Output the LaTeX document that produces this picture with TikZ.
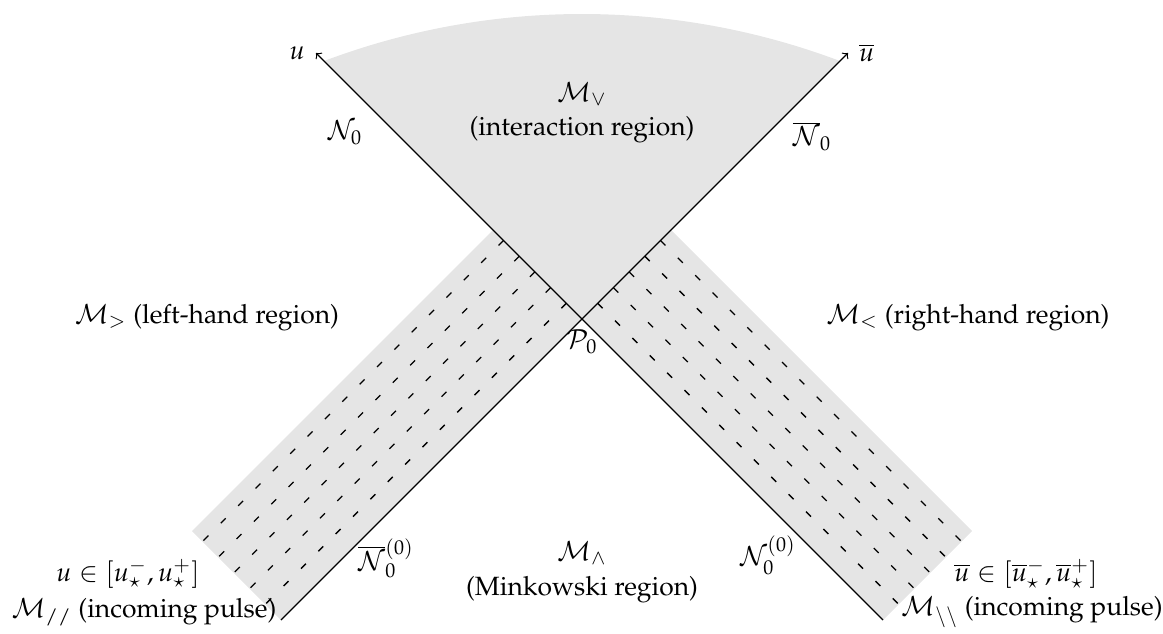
\documentclass[tikz,border=0pt]{standalone}
\usepackage[T1]{fontenc}
\usepackage{mathpazo}
\usetikzlibrary{calc}
\begin{document}
\begin{tikzpicture}[x=0.4277pt,y=0.4277pt,
  region/.style={fill=black!10, draw=none},
  axisline/.style={line width=0.5pt},
  hatch/.style={line width=0.55pt, dash pattern=on 3pt off 7.5pt},
  lbl/.style={inner sep=0.5pt, font=\fontsize{11.3}{13.5}\selectfont}]
\useasboundingbox (0,0) rectangle (1163,633);
\coordinate (P0) at (582,314);
\coordinate (A) at (281,13);
\coordinate (D) at (883,13);
\coordinate (Ut) at (316,580);
\coordinate (Vt) at (848,580);
\coordinate (B) at (493,403);
\coordinate (C) at (192,102);
\coordinate (E) at (671,403);
\coordinate (F) at (972,102);
\coordinate (WL) at (324,572);
\coordinate (WR) at (840,572);
% shaded regions
\fill[region] (A) -- (P0) -- (B) -- (C) -- cycle;
\fill[region] (D) -- (P0) -- (E) -- (F) -- cycle;
\fill[region] (P0) -- (WL) arc[start angle=110.65, end angle=69.35, radius=731.6] -- cycle;
% dashed lines in the pulses
\foreach \k in {1,...,5}{
  \draw[hatch] ($(P0)+(-15.7*\k,15.7*\k)$) -- ($(A)+(-15.7*\k,15.7*\k)$);
  \draw[hatch] ($(P0)+(15.7*\k,15.7*\k)$) -- ($(D)+(15.7*\k,15.7*\k)$);
}
% null axes
\draw[axisline,->] (A) -- (Vt);
\draw[axisline,->] (D) -- (Ut);
% labels
\node[lbl,left=4pt] (ulab) at (Ut) {$u$};
\node[lbl,right=4pt] (ublab) at (Vt) {$\overline{u}$};
\node[lbl] (Mv) at (582,539) {$\mathcal{M}_\vee$};
\node[lbl] (intr) at (582,503) {(interaction region)};
\node[lbl] (N0) at (345,500) {$\mathcal{N}_0$};
\node[lbl] (N0b) at (812,497) {$\overline{\mathcal{N}}_0$};
\node[lbl] (Ml) at (207,315) {$\mathcal{M}_>$ (left-hand region)};
\node[lbl] (Mr) at (968,315) {$\mathcal{M}_<$ (right-hand region)};
\node[lbl] (P0l) at (582,291) {$\mathcal{P}_0$};
\node[lbl] (Mw) at (582,80) {$\mathcal{M}_\wedge$};
\node[lbl] (mink) at (582,43) {(Minkowski region)};
\node[lbl] (N00b) at (386,75) {$\overline{\mathcal{N}}_0^{(0)}$};
\node[lbl] (N00) at (768,78) {$\mathcal{N}_0^{(0)}$};
\node[lbl] (ul) at (128,59) {$u\in[u^-_\star,u^+_\star]$};
\node[lbl] (pl) at (144,21) {$\mathcal{M}_{//}$ (incoming pulse)};
\node[lbl] (ur) at (1026,59) {$\overline{u}\in[\overline{u}^-_\star,\overline{u}^+_\star]$};
\node[lbl] (pr) at (1032,21) {$\mathcal{M}_{\backslash\backslash}$ (incoming pulse)};
\end{tikzpicture}
\end{document}
